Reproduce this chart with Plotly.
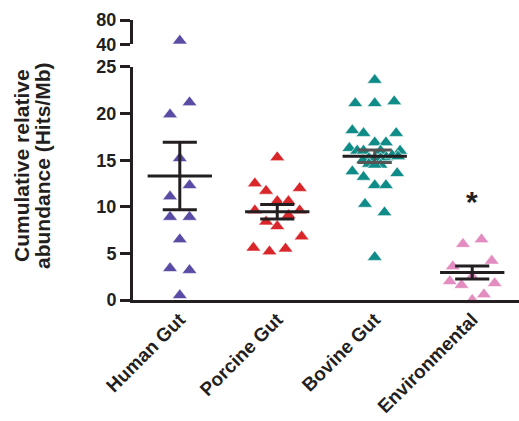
import plotly.graph_objects as go

# ---------------- data ----------------
categories = ["Human Gut", "Porcine Gut", "Bovine Gut", "Environmental"]
colors = ["#5A4CA5", "#D8262A", "#0F8C88", "#E38CC0"]

human_vals = [21.2, 19.9, 15.2, 12.3, 11.1, 8.9, 8.9, 6.5, 3.4, 3.2, 0.5]
human_jit = [0.1, -0.1, 0.0, 0.1, -0.1, -0.1, 0.1, 0.0, -0.1, 0.1, 0.0]
human_high_vals = [46.0]          # point on the broken upper segment
human_high_jit = [0.0]

porcine_vals = [15.3, 12.5, 12.0, 11.7, 10.6, 10.6, 9.6, 9.6, 9.1, 8.4, 7.9, 6.8, 5.6, 5.2, 5.5]
porcine_jit = [0.0, -0.23, 0.23, -0.115, 0.0, 0.115, -0.23, 0.23, 0.115, -0.115, 0.0, 0.25, -0.245, -0.08, 0.085]

bovine_vals = [23.6, 21.1, 21.1, 21.3, 18.2, 17.9, 17.9, 16.9, 16.9, 16.3, 16.0, 16.0, 16.0, 16.0,
               15.2, 15.2, 15.2, 15.3, 15.5, 15.0, 15.4, 14.6, 14.5, 14.5, 13.8, 13.2, 13.6,
               12.3, 12.3, 10.3, 9.4, 4.6]
bovine_jit = [0.0, -0.2, 0.0, 0.2, -0.23, -0.115, 0.22, 0.0, 0.115, -0.26, -0.18, -0.115, 0.26, 0.06,
              -0.06, 0.0, 0.06, 0.12, 0.18, -0.12, 0.24, -0.06, 0.06, 0.0, -0.23, -0.115, 0.23,
              0.0, 0.115, -0.1, 0.1, 0.0]

env_vals = [6.5, 6.0, 4.2, 3.6, 2.5, 2.0, 1.6, 1.8, 0.6, 0.0]
env_jit = [0.095, -0.095, 0.2, -0.2, 0.0, -0.23, -0.11, 0.23, 0.12, 0.0]

means = [13.3, 9.46, 15.43, 2.95]
sems = [3.62, 0.78, 0.67, 0.7]

y_ticks = [0, 5, 10, 15, 20, 25]
y2_ticks = [40, 80]
star_value = 10.6

# ---------------- figure ----------------
FONT = "Liberation Sans, Arial, sans-serif"
INK = "#231F20"
sem_colors = [INK, INK, "#555555", INK]

fig = go.Figure()

groups = [
    (human_vals, human_jit),
    (porcine_vals, porcine_jit),
    (bovine_vals, bovine_jit),
    (env_vals, env_jit),
]

marker_size = 13

for i, (vals, jit) in enumerate(groups):
    fig.add_trace(go.Scatter(
        x=[i + j for j in jit], y=vals, mode="markers",
        marker=dict(symbol="triangle-up", size=marker_size, color=colors[i],
                    line=dict(color="white", width=0.6)),
        cliponaxis=False, showlegend=False, hoverinfo="skip",
        xaxis="x", yaxis="y"))

fig.add_trace(go.Scatter(
    x=[0 + j for j in human_high_jit], y=human_high_vals, mode="markers",
    marker=dict(symbol="triangle-up", size=marker_size, color=colors[0],
                line=dict(color="white", width=0.6)),
    cliponaxis=False, showlegend=False, hoverinfo="skip",
    xaxis="x", yaxis="y2"))

# mean and SEM lines
mean_half = 0.33
cap_half = 0.175
for i, (m, s) in enumerate(zip(means, sems)):
    xs = [i - cap_half, i + cap_half, None,
          i - cap_half, i + cap_half, None,
          i, i]
    ys = [m + s, m + s, None,
          m - s, m - s, None,
          m - s, m + s]
    fig.add_trace(go.Scatter(
        x=xs, y=ys, mode="lines", line=dict(color=sem_colors[i], width=3),
        cliponaxis=False, showlegend=False, hoverinfo="skip",
        xaxis="x", yaxis="y"))
    fig.add_trace(go.Scatter(
        x=[i - mean_half, i + mean_half], y=[m, m], mode="lines",
        line=dict(color=INK, width=3),
        cliponaxis=False, showlegend=False, hoverinfo="skip",
        xaxis="x", yaxis="y"))

axis_common = dict(
    showline=True, linecolor=INK, linewidth=3,
    ticks="outside", ticklen=10, tickwidth=3, tickcolor=INK,
    showgrid=False, zeroline=False, automargin=False,
    tickfont=dict(family=FONT, size=18, color=INK, weight="bold"),
)

title_font = dict(family=FONT, size=21, color=INK, weight="bold")

fig.update_layout(
    width=519, height=421,
    margin=dict(l=133, r=0, t=0, b=121),
    paper_bgcolor="white", plot_bgcolor="white",
    xaxis=dict(
        range=[-0.48, 3.48],
        tickmode="array", tickvals=list(range(len(categories))), ticktext=categories,
        tickangle=-45, showline=True, linecolor=INK, linewidth=3,
        ticks="", showgrid=False, zeroline=False, automargin=False,
        ticklabelstandoff=-2,
        tickfont=dict(family=FONT, size=19, color=INK, weight="bold"),
        anchor="y",
    ),
    yaxis=dict(domain=[0, 0.7767], range=[0, 25], tickvals=y_ticks, anchor="x", **axis_common),
    yaxis2=dict(domain=[0.852, 0.933], range=[40, 80], tickvals=y2_ticks, anchor="x", **axis_common),
    annotations=[
        dict(text="Cumulative relative", textangle=-90,
             xref="paper", yref="paper", x=-0.2902, y=0.45,
             xanchor="center", yanchor="middle", showarrow=False, font=title_font),
        dict(text="abundance (Hits/Mb)", textangle=-90,
             xref="paper", yref="paper", x=-0.2358, y=0.45,
             xanchor="center", yanchor="middle", showarrow=False, font=title_font),
        dict(text="*", xref="x", yref="y", x=3, y=star_value, showarrow=False,
             xanchor="center", yanchor="middle",
             font=dict(family=FONT, size=30, color=INK, weight="bold")),
    ],
)

fig.write_html("out.html")
